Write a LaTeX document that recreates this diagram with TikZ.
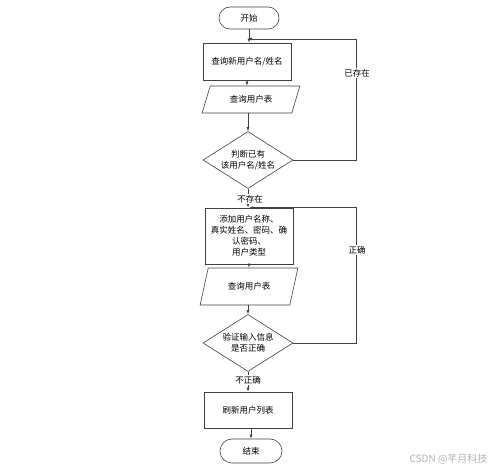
\documentclass[tikz,border=0pt]{standalone}
\usepackage{fontspec}
\setmainfont{Noto Sans CJK SC}
\usetikzlibrary{shapes.geometric,shapes.misc,arrows.meta}
\begin{document}
\begin{tikzpicture}[x=1pt,y=-1pt, font=\fontsize{8.5}{11}\selectfont,
 line/.style={draw=black!75, line width=0.6pt},
 arr/.style={line, -{Latex[length=4pt,width=3pt]}},
 term/.style={line, rounded rectangle, minimum width=60pt, minimum height=22pt, inner sep=0pt},
 proc/.style={line, rectangle, minimum width=88pt, inner sep=0pt, align=center},
 io/.style={line, trapezium, trapezium left angle=62, trapezium right angle=118, trapezium stretches=true, minimum width=98pt, inner sep=0pt},
 dec/.style={line, diamond, shape aspect=1.6, minimum width=90pt, minimum height=57pt, inner sep=0pt, align=center},
 lbl/.style={fill=white, inner sep=1pt}]
\useasboundingbox (0,0) rectangle (499,470);
\node[term] (start) at (249,18) {开始};
\node[proc, minimum height=37pt] (q1) at (247,61.5) {查询新用户名/姓名};
\node[io, minimum height=27pt] (t1) at (251,99.5) {查询用户表};
\node[dec] (d1) at (248,160) {判断已有\\该用户名/姓名};
\node[proc, minimum height=56pt] (add) at (249,236) {添加用户名称、\\真实姓名、密码、确\\认密码、\\用户类型};
\node[io, minimum height=37pt] (t2) at (249,286.5) {查询用户表};
\node[dec] (d2) at (248,343) {验证输入信息\\是否正确};
\node[proc, minimum height=36pt] (r) at (248,410) {刷新用户列表};
\node[term, minimum width=62pt, minimum height=24pt] (end) at (251,451) {结束};
\coordinate (j1) at (248,39);
\coordinate (r1) at (356,160);
\coordinate (r1t) at (356,39);
\coordinate (r2) at (356,343);
\draw[arr] (start.south) -- (q1.north -| start.south);
\draw[arr] (q1.south) -- (q1.south |- t1.north);
\draw[arr] (t1.south -| d1.north) -- (d1.north);
\draw[line] (d1.east) -- (r1) -- (r1t);
\draw[arr] (r1t) -- (j1);
\draw[arr] (d1.south) -- (d1.south |- add.north);
\draw[arr] (add.south) -- (add.south |- t2.north);
\draw[arr] (t2.south -| d2.north) -- (d2.north);
\draw[arr] (d2.east) -- (r2) |- (add.north);
\draw[arr] (d2.south) -- (d2.south |- r.north);
\draw[arr] (r.south -| end.north) -- (end.north);
\node[lbl] (l1) at (357,73) {已存在};
\node[lbl] (l2) at (250,199) {不存在};
\node[lbl] (l3) at (357,250) {正确};
\node[lbl] (l4) at (248,380) {不正确};
\node[text=black!30, font=\fontsize{10}{12}\selectfont, anchor=east] (wm) at (491,459) {CSDN @芊月科技};
\end{tikzpicture}
\end{document}
